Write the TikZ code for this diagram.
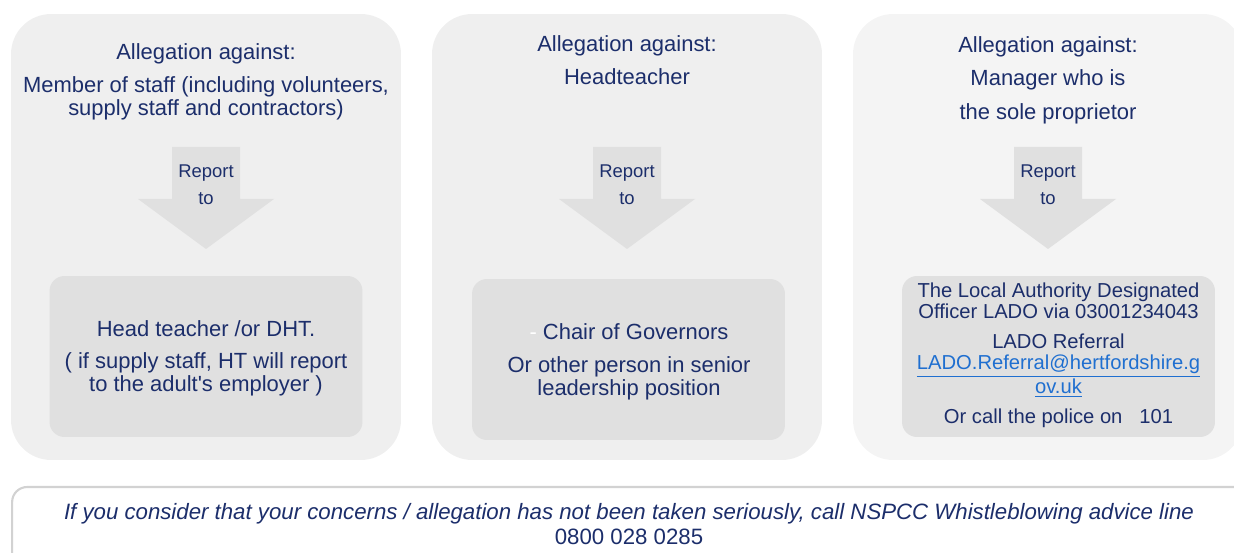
\documentclass[tikz,border=0pt]{standalone}
\usepackage{fontspec}
\setmainfont{Liberation Sans}
\begin{document}
\begin{tikzpicture}[x=0.02cm, y=-0.02cm]
    \definecolor{text-color}{HTML}{1C2E6B}
    \definecolor{panel-color}{HTML}{EFEFEF}
    \definecolor{panel3-color}{HTML}{F4F4F4}
    \definecolor{box-color}{HTML}{E0E0E0}
    \definecolor{link-color}{HTML}{1F6FD0}
    \definecolor{note-line}{HTML}{D2D2D2}
    \tikzstyle{every node}=[text=text-color, align=center, inner sep=0pt]
    \tikzstyle{panel} = [rectangle, fill=panel-color, rounded corners=0.8cm, minimum width=7.8cm, minimum height=8.92cm]
    \tikzstyle{inner} = [rectangle, fill=box-color, rounded corners=0.3cm, minimum width=6.26cm, minimum height=3.22cm]
    \tikzstyle{title} = [font=\fontsize{12.5}{12.5}\selectfont]
    \tikzstyle{report} = [font=\fontsize{10.5}{15.3}\selectfont]
    \tikzstyle{arrowfill} = [fill=box-color]
    \useasboundingbox (0,0) rectangle (1234,553);
    \clip (0,0) rectangle (1234,553);
        % panels
        \node (panel1) [panel] at (206,237) {};
        \node (panel2) [panel] at (627,237) {};
        \node (panel3) [panel, fill=panel3-color] at (1048,237) {};
        \node (title1) [title, font=\fontsize{12.5}{13}\selectfont] at (206,82) {Allegation against:\\[6pt] Member of staff (including volunteers,\\ supply staff and contractors)};
        \node (title2) [title] at (627,60) {Allegation against:\\[6pt] Headteacher};
        \node (title3) [title] at (1048,80) {Allegation against:\\[6.5pt] Manager who is\\[6.5pt] the sole proprietor};
        % report arrows
        \coordinate (a1) at (206,147);
        \coordinate (a2) at (627,147);
        \coordinate (a3) at (1048,147);
        \fill[arrowfill] (a1) ++(-34,0) -- ++(68,0) -- ++(0,52) -- ++(34,0) -- ++(-68,50) -- ++(-68,-50) -- ++(34,0) -- cycle;
        \fill[arrowfill] (a2) ++(-34,0) -- ++(68,0) -- ++(0,52) -- ++(34,0) -- ++(-68,50) -- ++(-68,-50) -- ++(34,0) -- cycle;
        \fill[arrowfill] (a3) ++(-34,0) -- ++(68,0) -- ++(0,52) -- ++(34,0) -- ++(-68,50) -- ++(-68,-50) -- ++(34,0) -- cycle;
        \node (report1) [report] at (206,184.5) {Report\\ to};
        \node (report2) [report] at (627,184.5) {Report\\ to};
        \node (report3) [report] at (1048,184.5) {Report\\ to};
        % who to report to
        \node (box1) [inner] at (206,356.5) {};
        \node (box2) [inner] at (628.5,359.5) {};
        \node (box3) [inner] at (1058.5,356.5) {};
        \node (who1) [title, font=\fontsize{12.5}{13}\selectfont] at (206,358) {Head teacher /or DHT.\\[5.5pt] ( if supply staff, HT will report\\ to the adult\textquotesingle s employer )};
        \node (who2) [title, font=\fontsize{12.5}{13}\selectfont] at (629,361.5) {{\color{white}-} Chair of Governors\\[6pt] Or other person in senior\\ leadership position};
        \node (who3) [font=\fontsize{11.5}{12}\selectfont] at (1058.5,355) {The Local Authority Designated\\ Officer LADO via 03001234043\\[5pt] LADO Referral\\ {\color{link-color}\underline{LADO.Referral@hertfordshire.g}}\\ {\color{link-color}\underline{ov.uk}}\\[5pt] Or call the police on\ \ \ 101};
        % whistleblowing note
        \node (note) [rectangle, draw=note-line, line width=1.2pt, fill=white, rounded corners=0.3cm, minimum width=24.96cm, minimum height=2.26cm] at (636,543.5) {};
        \node (notetext) [font=\itshape\fontsize{12.65}{14.7}\selectfont] at (629,524) {If you consider that your concerns / allegation has not been taken seriously, call NSPCC Whistleblowing advice line\\ \upshape 0800 028 0285};
\end{tikzpicture}
\end{document}
